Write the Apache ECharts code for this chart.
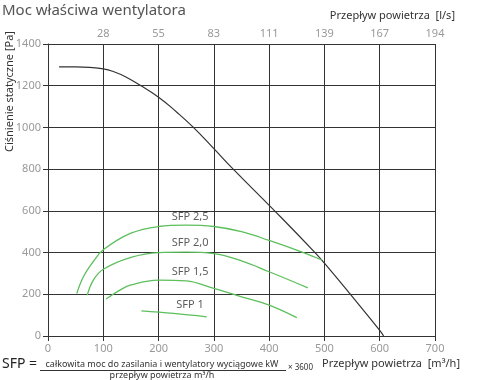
<!DOCTYPE html>
<html><head><meta charset="utf-8">
<script src="https://cdn.jsdelivr.net/npm/echarts@6/dist/echarts.min.js"></script>
<style>html,body{margin:0;padding:0;background:#fff}#c{width:480px;height:380px}</style>
</head><body><div id="c"></div>
<script>
const topTickLabels = ['', '28', '55', '83', '111', '139', '167', '194', ''];
const fanCurve = [[20,1290],[50,1290],[75,1288],[100,1281],[120,1266],[140,1243],[166,1203],[200,1145],[233,1073],[263,1000],[300,898],[335,800],[410,600],[483,400],[500,349],[550,190],[600,27],[607,0]];
const sfp25 = [[52,204],[64,284],[80,350],[100,413],[150,493],[200,525],[250,532],[300,525],[350,500],[400,458],[462,400],[495,365]];
const sfp20 = [[71,196],[82,268],[100,320],[150,377],[200,400],[250,402],[300,395],[350,360],[400,308],[470,231]];
const sfp15 = [[105,177],[130,220],[150,245],[200,268],[250,264],[300,228],[350,188],[400,148],[450,88]];
const sfp10 = [[169,120],[227,108],[287,92]];
const sfpLabels = [[257,571,'SFP 2,5'],[257,445,'SFP 2,0'],[257,308,'SFP 1,5'],[257,148,'SFP 1']];

const F = 'Noto Sans';
const green = '#5cbf5c';
const chart = echarts.init(document.getElementById('c'));
const lineSeries = (data, color, w, s) => ({
  type: 'line', data, smooth: s, symbol: 'none', xAxisIndex: 0,
  lineStyle: {color, width: w}, silent: true, z: 3
});
chart.setOption({
  animation: false,
  textStyle: {fontFamily: F},
  grid: {left: 48, right: 45, top: 44, bottom: 44, containLabel: false},
  xAxis: [{
    type: 'value', min: 0, max: 700, interval: 100, position: 'bottom',
    axisLine: {show: true, lineStyle: {color: '#333', width: 1}},
    axisTick: {show: true, length: 5, lineStyle: {color: '#333'}},
    axisLabel: {color: '#999', fontSize: 11, margin: 7, fontFamily: F, formatter: v => String(v)},
    splitLine: {show: true, lineStyle: {color: '#333', width: 1}}
  }, {
    type: 'value', min: 0, max: 700, interval: 100, position: 'top',
    axisLine: {show: true, lineStyle: {color: '#333', width: 1}},
    axisTick: {show: true, inside: true, length: 4, lineStyle: {color: '#333'}},
    axisLabel: {color: '#999', fontSize: 11, margin: 5, fontFamily: F,
      formatter: v => topTickLabels[Math.round(v / 100)]},
    splitLine: {show: false}
  }],
  yAxis: {
    type: 'value', min: 0, max: 1400, interval: 200,
    axisLine: {show: true, lineStyle: {color: '#333', width: 1}},
    axisTick: {show: true, length: 5, lineStyle: {color: '#333'}},
    axisLabel: {color: '#999', fontSize: 11, margin: 7, fontFamily: F, formatter: v => String(v)},
    splitLine: {show: true, lineStyle: {color: '#333', width: 1}}
  },
  series: [
    lineSeries(fanCurve, '#333', 1.2, 0.5),
    lineSeries(sfp25, green, 1.3, 0.4),
    lineSeries(sfp20, green, 1.3, 0.4),
    lineSeries(sfp15, green, 1.3, 0.4),
    lineSeries(sfp10, green, 1.3, 0.4),
    {
      type: 'scatter', data: sfpLabels, symbolSize: 0, silent: true, z: 5,
      label: {show: true, position: 'inside', formatter: p => p.data[2],
        color: '#333', fontSize: 11, fontFamily: F}
    }
  ],
  graphic: [
    {type: 'text', left: 2, top: 3, style: {text: 'Moc właściwa wentylatora', fill: '#555', font: '15px "Noto Sans"'}},
    {type: 'text', right: 25, top: 10, style: {text: 'Przepływ powietrza  [l/s]', fill: '#333', font: '11px "Noto Sans"'}},
    {type: 'text', x: 4, y: 152, rotation: Math.PI / 2, style: {text: 'Ciśnienie statyczne [Pa]', fill: '#333', font: '11px "Noto Sans"', textVerticalAlign: 'top'}},
    {type: 'text', left: 2, top: 357, style: {text: 'SFP =', fill: '#222', font: '14px "Noto Sans"'}},
    {type: 'text', x: 162, y: 364, style: {text: 'całkowita moc do zasilania i wentylatory wyciągowe kW', fill: '#333', font: '9px "Noto Sans"', textAlign: 'center', textVerticalAlign: 'middle'}},
    {type: 'line', shape: {x1: 40, y1: 370.5, x2: 286, y2: 370.5}, style: {stroke: '#333', lineWidth: 1}},
    {type: 'text', x: 162, y: 375, style: {text: 'przepływ powietrza m³/h', fill: '#333', font: '9px "Noto Sans"', textAlign: 'center', textVerticalAlign: 'middle'}},
    {type: 'text', x: 288, y: 368, style: {text: '× 3600', fill: '#333', font: '8px "Noto Sans"', textVerticalAlign: 'middle'}},
    {type: 'text', x: 322, y: 364, style: {text: 'Przepływ powietrza  [m³/h]', fill: '#333', font: '11px "Noto Sans"', textVerticalAlign: 'middle'}}
  ]
});
</script></body></html>
